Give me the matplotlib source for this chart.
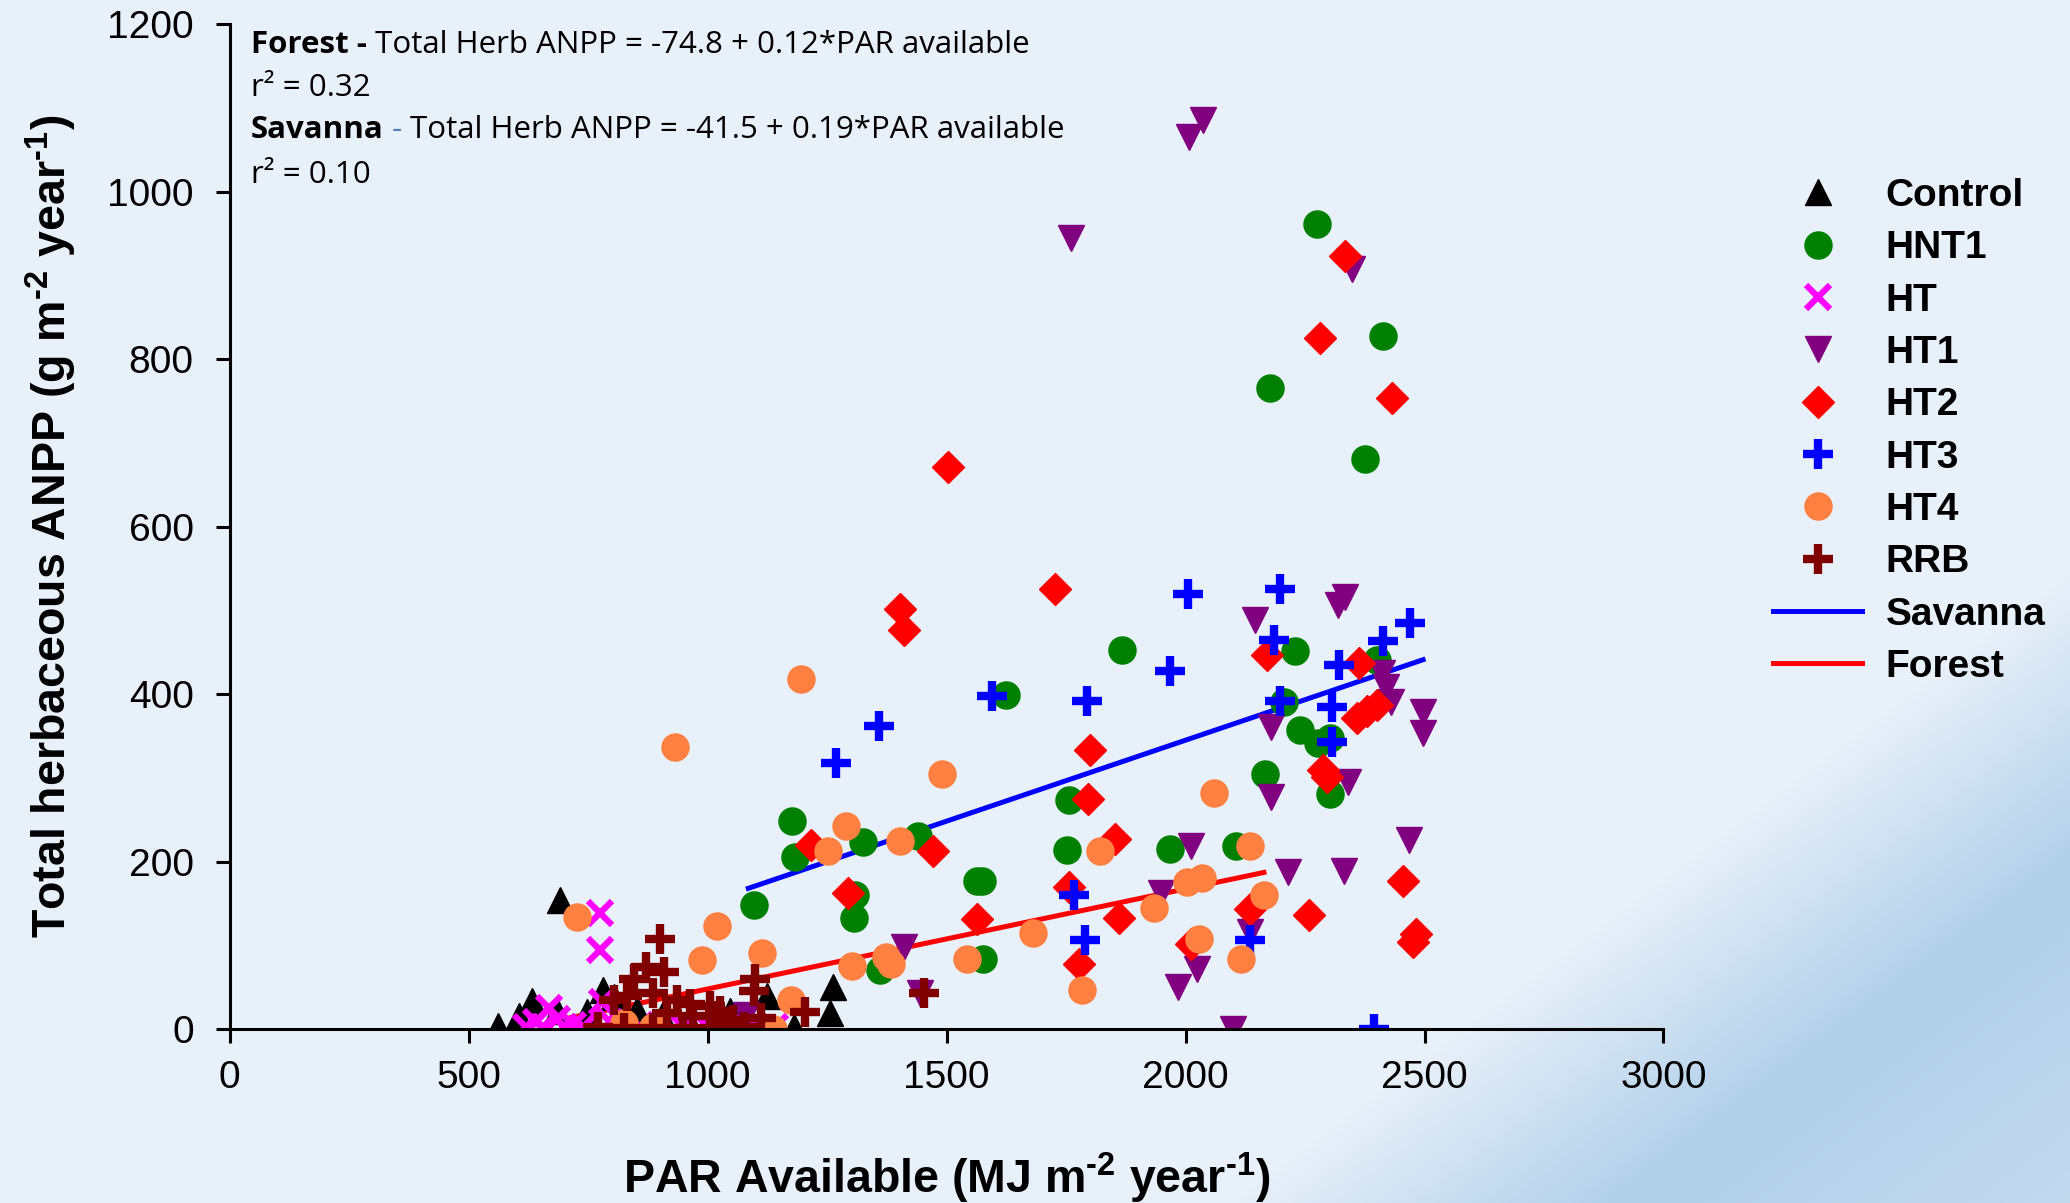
import numpy as np
import matplotlib.pyplot as plt
from matplotlib.lines import Line2D

# valeurs (PAR disponible, ANPP herbacée)
control_x = [562, 605, 632, 690, 684, 747, 782, 803, 852, 905, 960, 1047, 1124, 1180, 1256, 1262]
control_y = [4, 16, 33, 154, 22, 20, 47, 38, 23, 15, 10, 22, 40, 3, 19, 50]

hnt1_x = [2274, 2413, 2176, 2375, 2230, 2207, 2400, 2239, 2277, 2303, 2166, 2303, 1868, 1625, 1757,
          1177, 1182, 1324, 1440, 1752, 1968, 2106, 1574, 1563, 1096, 1308, 1307, 1361, 1577]
hnt1_y = [961, 827, 766, 681, 451, 390, 441, 357, 341, 347, 305, 281, 453, 399, 273,
          248, 205, 223, 231, 214, 215, 218, 177, 177, 148, 160, 133, 70, 84]

ht_x = [620, 640, 655, 668, 685, 700, 718, 740, 775, 775, 778, 795, 820, 858, 900, 948, 1000, 1055, 1082, 1140]
ht_y = [2, 8, 3, 25, 12, 2, 5, 3, 138, 94, 32, 8, 3, 2, 5, 2, 3, 5, 1, 3]

ht1_x = [2008, 2036, 1760, 2348, 2333, 2318, 2146, 2411, 2420, 2430, 2496, 2497, 2178, 2340, 2178,
         2467, 2214, 2331, 1410, 2011, 1948, 2023, 1985, 2100, 2135, 1444, 1081]
ht1_y = [1065, 1085, 945, 907, 516, 506, 488, 425, 409, 391, 378, 353, 361, 295, 277,
         226, 187, 189, 98, 218, 162, 72, 50, 0, 116, 43, 17]

ht2_x = [2334, 2281, 2431, 2170, 2363, 2359, 2380, 2400, 2288, 2296, 2456, 2258, 2482, 2475, 2135,
         1726, 1402, 1410, 1799, 1795, 1853, 1216, 1472, 1294, 1563, 1756, 1861, 1778, 2012, 1503]
ht2_y = [923, 825, 753, 447, 437, 371, 380, 387, 309, 301, 177, 136, 114, 104, 143,
         525, 502, 476, 333, 275, 227, 220, 212, 163, 131, 170, 133, 78, 102, 671]

ht3_x = [2198, 2470, 2413, 2186, 2322, 2198, 2307, 2307, 2394, 2135, 2006, 1967, 1595, 1793, 1359, 1268, 1767, 1789]
ht3_y = [525, 485, 463, 464, 435, 392, 385, 343, 0, 106, 520, 427, 398, 392, 362, 318, 160, 106]

ht4_x = [1196, 1491, 2059, 1019, 1290, 1252, 1403, 1821, 1933, 2004, 2034, 2165, 2135, 2117, 2029,
         1681, 1543, 1373, 1384, 1302, 1784, 1113, 988, 1175, 1137, 931, 726, 886, 824]
ht4_y = [418, 305, 282, 123, 242, 212, 224, 213, 145, 176, 180, 160, 218, 84, 108,
         115, 84, 86, 78, 75, 47, 91, 82, 35, 0, 337, 134, 3, 7]

rrb_x = [771, 803, 824, 831, 845, 872, 886, 886, 900, 909, 915, 935, 949, 963, 970, 1005, 1005,
         1019, 1026, 1040, 1054, 1075, 1099, 1097, 1112, 1204, 1452]
rrb_y = [3, 35, 1, 40, 60, 74, 43, 1, 107, 68, 19, 35, 1, 30, 15, 1, 27,
         15, 22, 7, 11, 3, 60, 45, 13, 20, 43]

# droites de régression (extrémités lues)
savanna_x = [1085, 2497]
savanna_y = [168, 441]
forest_x = [700, 2164]
forest_y = [12, 187]

x_ticks = [0, 500, 1000, 1500, 2000, 2500, 3000]
y_ticks = [0, 200, 400, 600, 800, 1000, 1200]

plt.rcParams['font.family'] = ['Liberation Sans', 'DejaVu Sans']
plt.rcParams['mathtext.fontset'] = 'custom'
plt.rcParams['mathtext.bf'] = 'Liberation Sans:bold'
plt.rcParams['mathtext.rm'] = 'Liberation Sans:bold'
plt.rcParams['mathtext.default'] = 'bf'

W, H = 2070, 1203
fig = plt.figure(figsize=(W / 100, H / 100), dpi=100)

# fond dégradé (coin bas droit plus bleu)
bg = fig.add_axes([0, 0, 1, 1], zorder=-10)
yy, xx = np.mgrid[0:H, 0:W]
s = 0.6 * xx + 0.8 * yy
c_light = np.array([232, 240, 249]) / 255
c_dark = np.array([178, 208, 234]) / 255
c_end = np.array([196, 218, 239]) / 255
t1 = np.clip((s - 1700) / 230, 0, 1)[..., None]
t2 = np.clip((s - 1960) / 260, 0, 1)[..., None]
img = c_light + (c_dark - c_light) * t1 + (c_end - c_dark) * t2
bg.imshow(img, aspect='auto', extent=[0, 1, 0, 1])
bg.axis('off')

ax = fig.add_axes([0.111, 0.1446, 0.6926, 0.8354])
ax.set_facecolor('none')

ax.plot(savanna_x, savanna_y, color='#0000FF', lw=3.6, zorder=1)
ax.plot(forest_x, forest_y, color='#FF0000', lw=3.6, zorder=1)

ax.plot(control_x, control_y, ls='none', marker='^', ms=19, color='black', label='Control')
ax.plot(hnt1_x, hnt1_y, ls='none', marker='o', ms=19.5, color='#008000', label='HNT1')
ax.plot(ht_x, ht_y, ls='none', marker='x', ms=17, mew=4.5, color='#FF00FF', label='HT')
ax.plot(ht1_x, ht1_y, ls='none', marker='v', ms=19, color='#800080', label='HT1')
ax.plot(ht2_x, ht2_y, ls='none', marker='D', ms=16, color='#FF0000', label='HT2')
ax.plot(ht3_x, ht3_y, ls='none', marker='+', ms=22, mew=6, color='#0000FF', label='HT3')
ax.plot(ht4_x, ht4_y, ls='none', marker='o', ms=19.5, color='#FF8040', label='HT4')
ax.plot(rrb_x, rrb_y, ls='none', marker='+', ms=22, mew=6, color='#800000', label='RRB')

ax.set_xlim(0, 3000)
ax.set_ylim(0, 1200)
ax.set_xticks(x_ticks)
ax.set_yticks(y_ticks)
ax.spines['top'].set_visible(False)
ax.spines['right'].set_visible(False)
for sp in ['left', 'bottom']:
    ax.spines[sp].set_linewidth(2.2)
ax.tick_params(direction='out', length=10, width=2.2, labelsize=28)
ax.tick_params(axis='y', pad=16)
ax.tick_params(axis='x', pad=12)

ax.set_xlabel(r'PAR Available (MJ m$^{\text{-}2}$ year$^{\text{-}1}$)', fontsize=33.5, fontweight='bold', labelpad=40)
ax.set_ylabel(r'Total herbaceous ANPP (g m$^{\text{-}2}$ year$^{\text{-}1}$)', fontsize=33.5, fontweight='bold', labelpad=20)

# équations
efont = ['Open Sans', 'DejaVu Sans']
fs = 22.5
t = fig.text(0.1213, 0.9625, 'Forest -', fontsize=fs, fontweight='bold', family=efont, va='center')
ax.annotate(' Total Herb ANPP = -74.8 + 0.12*PAR available', xy=(1, 0), xycoords=t,
            va='bottom', fontsize=fs, family=efont)
fig.text(0.1213, 0.9270, 'r² = 0.32', fontsize=fs, family=efont, va='center')
t = fig.text(0.1213, 0.8920, 'Savanna', fontsize=fs, fontweight='bold', family=efont, va='center')
t = ax.annotate(' - ', xy=(1, 0), xycoords=t, va='bottom', fontsize=fs, family=efont, color='#4F81BD')
ax.annotate('Total Herb ANPP = -41.5 + 0.19*PAR available', xy=(1, 0), xycoords=t,
            va='bottom', fontsize=fs, family=efont)
fig.text(0.1213, 0.8545, 'r² = 0.10', fontsize=fs, family=efont, va='center')

h, l = ax.get_legend_handles_labels()
h += [Line2D([], [], color='#0000FF', lw=3.6), Line2D([], [], color='#FF0000', lw=3.6)]
l += ['Savanna', 'Forest']
leg = fig.legend(h, l, loc='upper left', bbox_to_anchor=(1773 / W, 1 - 178 / H), frameon=False,
                 prop={'size': 28, 'weight': 'bold'}, handlelength=2.3, handletextpad=0.6,
                 labelspacing=0.42, borderaxespad=0, borderpad=0)

fig.savefig('out.png', dpi=100)
